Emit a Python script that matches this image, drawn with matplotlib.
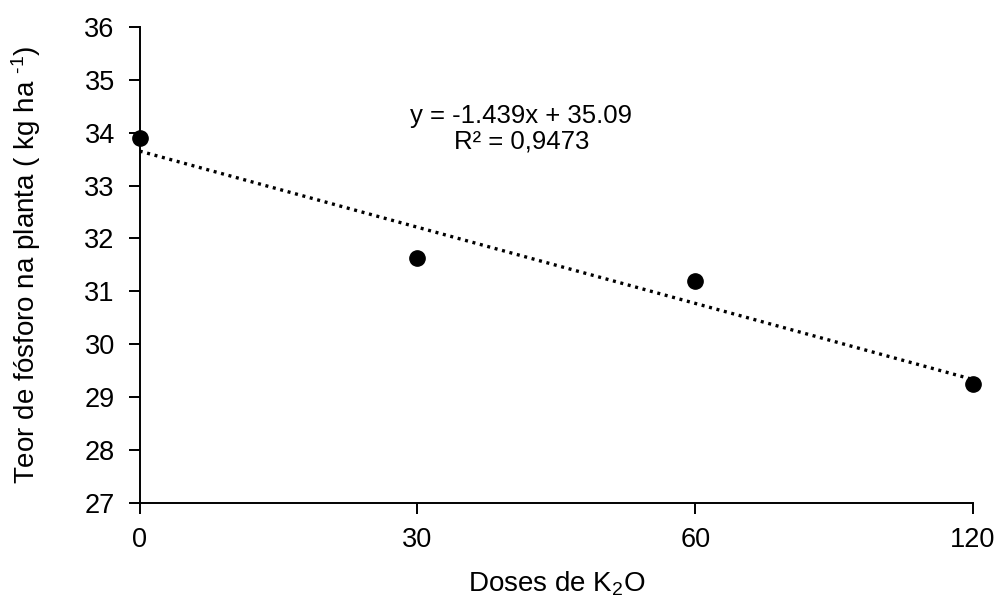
import matplotlib
matplotlib.use('Agg')
import matplotlib.pyplot as plt
import numpy as np

plt.rcParams['font.family'] = ['Liberation Sans', 'DejaVu Sans']
plt.rcParams['mathtext.fontset'] = 'custom'
plt.rcParams['mathtext.rm'] = 'Liberation Sans'
plt.rcParams['mathtext.default'] = 'regular'

# data
doses = ['0', '30', '60', '120']
fosforo = [33.9, 31.63, 31.2, 29.25]
slope = -1.439
intercept = 35.09
eq_text = 'y = -1.439x + 35.09\nR² = 0,9473'

pos = np.arange(1, len(doses) + 1)

fig = plt.figure(figsize=(9.98, 5.96), dpi=100)
ax = fig.add_axes([0.140, 0.156, 0.835, 0.799])

# excel style linear trend on category positions
ax.plot(pos, slope * pos + intercept, color='black', lw=2.4,
        linestyle=(0, (0.9, 1.4)), zorder=2)
ax.plot(pos, fosforo, 'o', color='black', ms=11, zorder=3, clip_on=False)

ax.text(2.374, 34.07, eq_text, ha='center', va='center', fontsize=18.5,
        linespacing=1.05)

ax.set_xlim(1, 4)
ax.set_ylim(27, 36)
ax.set_xticks(pos)
ax.set_xticklabels(doses)
ax.set_yticks(range(27, 37))

ax.spines['top'].set_visible(False)
ax.spines['right'].set_visible(False)
for s in ['left', 'bottom']:
    ax.spines[s].set_linewidth(1.4)
ax.tick_params(axis='both', labelsize=19.5, length=8, width=1.4, direction='out')
ax.tick_params(axis='x', pad=9)
ax.tick_params(axis='y', pad=10)

ax.set_ylabel(r'Teor de fósforo na planta ( kg ha $^{\text{-1}}$)', fontsize=20, labelpad=30)
ax.set_xlabel('Doses de K$_2$O', fontsize=20, labelpad=12)

fig.savefig('out.png', dpi=100)
